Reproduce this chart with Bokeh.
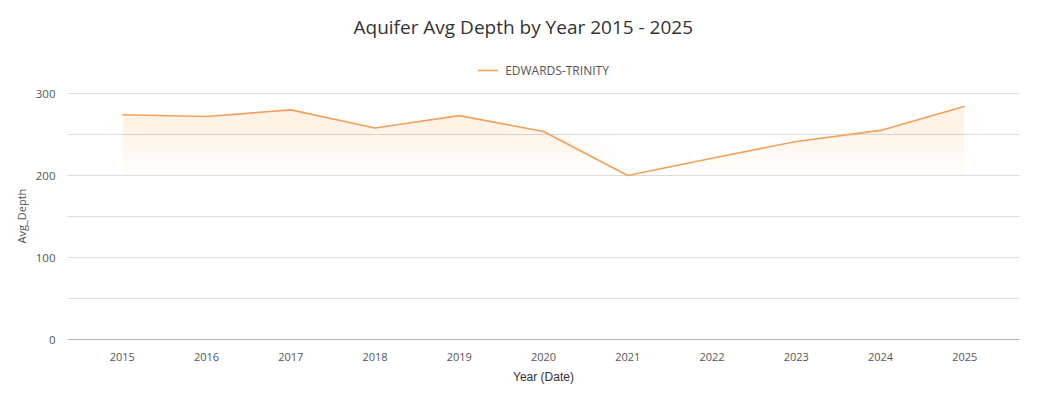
import numpy as np
from bokeh.plotting import figure
from bokeh.models import Range1d, FixedTicker, Legend, LegendItem, ColumnDataSource, Title
from bokeh.embed import file_html
from bokeh.resources import INLINE

years = [2015, 2016, 2017, 2018, 2019, 2020, 2021, 2022, 2023, 2024, 2025]
avg_depth = [274, 272, 280, 258, 273, 253.7, 200, 221, 241.5, 255, 284.5]
series_name = "EDWARDS-TRINITY"
y_ticks = [0, 100, 200, 300]
y_grid = [0, 50, 100, 150, 200, 250, 300]

LINE = "#F1A15A"
FONT = "Open Sans"

p = figure(frame_width=952, frame_height=291,
           min_border_left=67, min_border_right=18, min_border_top=48, min_border_bottom=59,
           x_range=Range1d(2014.35, 2025.65), y_range=Range1d(0, 354.88),
           output_backend="svg", toolbar_location=None,
           title="Aquifer Avg Depth by Year 2015 - 2025")
p.outline_line_color = None
p.background_fill_color = "white"
p.border_fill_color = "white"

p.title.align = "left"
p.title.offset = 286
p.title.standoff = 17
p.title.text_font = FONT
p.title.text_font_size = "19px"
p.title.text_font_style = "normal"
p.title.text_color = "#333333"

# gradient-like fill using stacked bands
vals = np.array(avg_depth, dtype=float)
base = vals.min()
levels = np.linspace(base, base + 55, 12)
for lv in levels:
    top = np.maximum(vals, lv)
    p.varea(x=years, y1=lv, y2=top, fill_color="#F3A265", fill_alpha=0.014)

src = ColumnDataSource(dict(x=years, y=avg_depth))
ln = p.line("x", "y", source=src, line_color=LINE, line_width=1.6)

legend = Legend(items=[LegendItem(label=series_name, renderers=[ln])],
                location="top_center", orientation="horizontal",
                border_line_color=None, background_fill_alpha=0,
                padding=0, margin=12, glyph_width=21, label_standoff=7,
                label_text_font=FONT, label_text_font_size="12px", label_text_color="#555555")
p.add_layout(legend)

# axes
p.xaxis.ticker = FixedTicker(ticks=years)
p.xaxis.axis_label = "Year (Date)"
p.xaxis.axis_label_text_font = "Liberation Sans"
p.xaxis.axis_label_text_font_size = "12px"
p.xaxis.axis_label_text_font_style = "normal"
p.xaxis.axis_label_text_color = "#333333"
p.xaxis.axis_label_standoff = 6
p.xaxis.major_label_text_font = FONT
p.xaxis.major_label_text_font_size = "11px"
p.xaxis.major_label_text_color = "#555555"
p.xaxis.major_label_standoff = 7
p.xaxis.axis_line_color = "#bbbbbb"
p.xaxis.major_tick_line_color = None
p.xaxis.minor_tick_line_color = None

p.yaxis.ticker = FixedTicker(ticks=y_ticks)
p.yaxis.major_label_text_font = FONT
p.yaxis.major_label_text_font_size = "11.5px"
p.yaxis.major_label_text_color = "#555555"
p.yaxis.major_label_standoff = 6
p.yaxis.axis_line_color = None
p.yaxis.major_tick_line_color = None
p.yaxis.minor_tick_line_color = None

ytitle = Title(text="Avg_Depth", align="left", offset=96, standoff=8,
               text_font=FONT, text_font_size="11px", text_font_style="normal",
               text_color="#555555")
p.add_layout(ytitle, "left")

p.xgrid.grid_line_color = None
p.ygrid.ticker = FixedTicker(ticks=y_grid)
p.ygrid.grid_line_color = "#dddddd"
p.ygrid.grid_line_width = 1

open("out.html", "w").write(file_html(p, INLINE))
